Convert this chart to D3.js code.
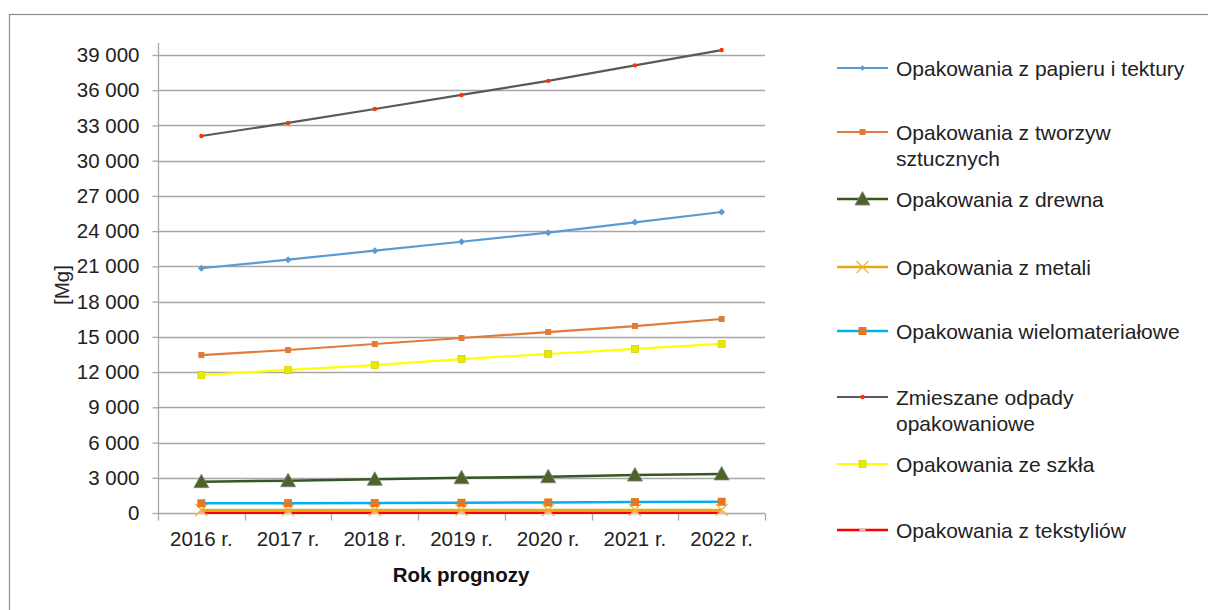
<!DOCTYPE html>
<html><head><meta charset="utf-8">
<script src="https://cdn.jsdelivr.net/npm/d3@7"></script>
<style>body{margin:0;background:#fff}svg{display:block;font-family:"Liberation Sans",Arial,sans-serif}</style>
</head><body><svg id="c" width="1208" height="610"></svg>
<script>
const years = ["2016 r.","2017 r.","2018 r.","2019 r.","2020 r.","2021 r.","2022 r."];
const papier = [20840,21570,22340,23100,23870,24750,25630];
const tworzywa = [13450,13880,14390,14900,15410,15920,16520];
const drewno = [2670,2750,2870,3000,3090,3230,3330];
const metale = [250,250,255,255,260,260,265];
const wielomat = [830,840,850,870,900,930,960];
const zmieszane = [32100,33220,34400,35600,36800,38120,39420];
const szklo = [11750,12180,12600,13110,13540,13970,14400];
const tekstylia = [20,20,20,20,20,20,20];
const yTicks = [0,3000,6000,9000,12000,15000,18000,21000,24000,27000,30000,33000,36000,39000];

const series = [
 {name:["Opakowania z papieru i tektury"], data:papier, color:"#5B9BD5", marker:"diamond", mfill:"#5B9BD5", width:2.2},
 {name:["Opakowania z tworzyw","sztucznych"], data:tworzywa, color:"#E07B39", marker:"square", mfill:"#E07B39", width:2.2},
 {name:["Opakowania z drewna"], data:drewno, color:"#375623", marker:"triangle", mfill:"#4F6228", width:2.5},
 {name:["Opakowania z metali"], data:metale, color:"#E6A817", marker:"x", mfill:"#F2B230", width:2.5},
 {name:["Opakowania wielomateriałowe"], data:wielomat, color:"#00B0F0", marker:"square", mfill:"#E87722", width:2.5},
 {name:["Zmieszane odpady","opakowaniowe"], data:zmieszane, color:"#595959", marker:"dot", mfill:"#FF3300", width:2.2},
 {name:["Opakowania ze szkła"], data:szklo, color:"#FFFF00", marker:"square", mfill:"#E8E800", width:2.2},
 {name:["Opakowania z tekstyliów"], data:tekstylia, color:"#FF0000", marker:"dash", mfill:"#F4B6B6", width:2.5}
];

const svg = d3.select("#c");
svg.append("rect").attr("x",9.5).attr("y",14.5).attr("width",1210).attr("height",610)
  .attr("fill","#fff").attr("stroke","#8c8c8c").attr("stroke-width",1.2);

const L=158, R=765, T=55, B=513;
const FS = 20.5;
const x = d3.scaleBand().domain(years).range([L,R]);
const y = d3.scaleLinear().domain([0,39000]).range([B,T]);
const fmt = v => d3.format(",")(v).replace(/,/g," ");

// gridlines
svg.append("g").selectAll("line").data(yTicks.filter(d=>d>0)).join("line")
  .attr("x1",L).attr("x2",R).attr("y1",d=>Math.round(y(d))+0.5).attr("y2",d=>Math.round(y(d))+0.5)
  .attr("stroke","#a6a6a6").attr("stroke-width",1.3);

// y axis
const ya = svg.append("g").attr("transform",`translate(${L+0.5},0)`)
  .call(d3.axisLeft(y).tickValues(yTicks).tickFormat(fmt).tickSize(6).tickPadding(13));
ya.select(".domain").attr("stroke","#a6a6a6").attr("stroke-width",1.3).attr("d",`M0,${B}V${T-12}`);
ya.selectAll(".tick line").attr("stroke","#a6a6a6").attr("stroke-width",1.3);
ya.selectAll("text").attr("font-size",FS).attr("fill","#222").attr("font-family","Liberation Sans, Arial");

// x axis
const xa = svg.append("g").attr("transform",`translate(0,${B+0.5})`)
  .call(d3.axisBottom(x).tickSize(0).tickPadding(18));
xa.select(".domain").attr("stroke","#a6a6a6").attr("stroke-width",1.3).attr("d",`M${L},0H${R}`);
xa.selectAll("text").attr("font-size",FS).attr("fill","#222").attr("font-family","Liberation Sans, Arial");
const bounds = years.map((d,i)=>x(d)).concat([R]);
xa.append("g").selectAll("line").data(bounds).join("line")
  .attr("x1",d=>Math.round(d)+0.5).attr("x2",d=>Math.round(d)+0.5).attr("y1",0).attr("y2",7)
  .attr("stroke","#a6a6a6").attr("stroke-width",1.3);

// titles
svg.append("text").attr("x",461).attr("y",582).attr("text-anchor","middle")
  .attr("font-size",20.5).attr("font-weight","bold").attr("fill","#111").text("Rok prognozy");
svg.append("text").attr("transform","translate(69,285) rotate(-90)").attr("text-anchor","middle")
  .attr("font-size",FS).attr("fill","#222").text("[Mg]");

function marker(g, type, cx, cy, s, big){
  const k = big?1:0.8;
  if(type==="diamond"){
    g.append("path").attr("d",`M${cx},${cy-3.5*k}L${cx+3.5*k},${cy}L${cx},${cy+3.5*k}L${cx-3.5*k},${cy}Z`).attr("fill",s.mfill);
  } else if(type==="square"){
    const h = s.data===wielomat?4:(s.data===szklo?3.5:3);
    g.append("rect").attr("x",cx-h).attr("y",cy-h).attr("width",2*h).attr("height",2*h).attr("fill",s.mfill)
      .attr("stroke",s.data===szklo?"#d4d400":"none").attr("stroke-width",0.8);
  } else if(type==="triangle"){
    const h=7.5;
    g.append("path").attr("d",`M${cx},${cy-h}L${cx+h},${cy+h*0.8}L${cx-h},${cy+h*0.8}Z`).attr("fill",s.mfill).attr("stroke","#7f7f7f").attr("stroke-width",0.8);
  } else if(type==="x"){
    const h=6;
    g.append("path").attr("d",`M${cx-h},${cy-h}L${cx+h},${cy+h}M${cx+h},${cy-h}L${cx-h},${cy+h}`).attr("stroke",s.mfill).attr("stroke-width",1.3).attr("fill","none");
  } else if(type==="dot"){
    g.append("circle").attr("cx",cx).attr("cy",cy).attr("r",2.2).attr("fill",s.mfill);
  } else if(type==="dash"){
    g.append("rect").attr("x",cx-3).attr("y",cy-1.5).attr("width",6).attr("height",3).attr("fill",s.mfill);
  }
}

const line = d3.line().x((d,i)=>x(years[i])+x.bandwidth()/2).y(d=>y(d));
const drawOrder = [7,3,4,2,6,1,0,5];
drawOrder.forEach(si=>{
  const s = series[si];
  const g = svg.append("g");
  g.append("path").datum(s.data).attr("d",line).attr("fill","none").attr("stroke",s.color).attr("stroke-width",s.width);
  s.data.forEach((v,i)=>marker(g,s.marker,x(years[i])+x.bandwidth()/2,y(v),s,true));
});

// legend
const legY = [68,132,199,267,331,397,464,530];
series.forEach((s,i)=>{
  const g = svg.append("g");
  const ly = legY[i];
  g.append("line").attr("x1",837).attr("x2",888).attr("y1",ly).attr("y2",ly).attr("stroke",s.color).attr("stroke-width",s.width);
  marker(g,s.marker,862.5,ly,s,false);
  s.name.forEach((t,j)=>{
    g.append("text").attr("x",896).attr("y",ly+7.5+j*26).attr("font-size",21).attr("fill","#222").text(t);
  });
});
</script></body></html>
